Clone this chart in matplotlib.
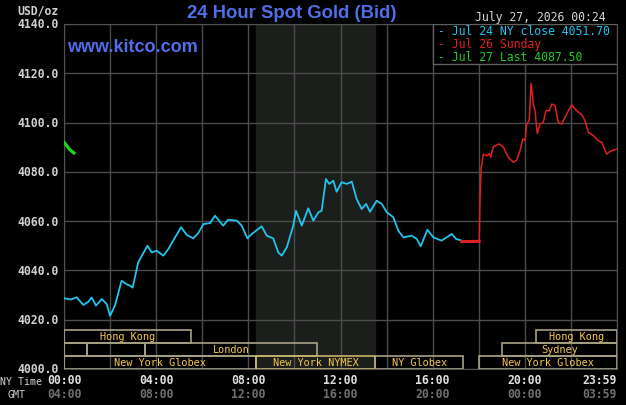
import matplotlib
matplotlib.use('Agg')
import matplotlib.pyplot as plt
from matplotlib.patches import Rectangle

# NY close day (Jul 24), hours NY time
blue_h = [0.0, 0.30, 0.55, 0.84, 1.05, 1.20, 1.39, 1.64, 1.85, 2.00, 2.21, 2.50, 2.70, 2.86, 2.98,
          3.22, 3.62, 3.81, 4.02, 4.31, 4.53, 4.82, 5.08, 5.33, 5.61, 5.83, 6.05, 6.34, 6.55,
          6.91, 7.13, 7.50, 7.71, 7.96, 8.15, 8.58, 8.80, 9.08, 9.30, 9.45, 9.67, 9.95, 10.07,
          10.32, 10.60, 10.82, 11.04, 11.18, 11.37, 11.51, 11.69, 11.83, 12.05, 12.27, 12.49,
          12.70, 12.92, 13.11, 13.28, 13.57, 13.79, 14.01, 14.29, 14.51, 14.73, 15.09, 15.31,
          15.48, 15.77, 16.03, 16.39, 16.83, 17.01, 17.26]
blue_v = [4028.7, 4028.2, 4029.1, 4026.0, 4027.2, 4029.0, 4025.7, 4028.4, 4026.4, 4021.6, 4025.7,
          4035.8, 4034.5, 4033.8, 4033.0, 4043.3, 4050.0, 4047.3, 4048.0, 4046.0, 4048.7, 4053.4,
          4057.5, 4054.4, 4053.0, 4055.2, 4058.8, 4059.2, 4062.2, 4058.2, 4060.6, 4060.2, 4058.2,
          4053.0, 4054.8, 4057.9, 4054.1, 4053.0, 4047.3, 4046.0, 4049.4, 4058.2, 4064.2, 4058.2,
          4065.2, 4060.2, 4063.6, 4064.2, 4077.1, 4075.1, 4076.4, 4071.9, 4075.8, 4075.1, 4076.0,
          4069.0, 4064.9, 4067.0, 4063.8, 4068.3, 4067.0, 4063.6, 4061.6, 4056.1, 4053.4, 4054.1,
          4052.8, 4049.8, 4056.5, 4053.4, 4052.1, 4054.8, 4052.8, 4052.1]

# Sunday (Jul 26)
red_h = [17.26, 18.02, 18.05, 18.10, 18.20, 18.35, 18.46, 18.52, 18.63, 18.89, 19.07, 19.28, 19.50,
         19.65, 19.79, 19.91, 20.01, 20.08, 20.19, 20.27, 20.37, 20.44, 20.54, 20.66, 20.80,
         20.92, 21.06, 21.17, 21.31, 21.45, 21.60, 21.82, 22.03, 22.25, 22.47, 22.61, 22.76,
         22.97, 23.19, 23.34, 23.55, 23.70, 23.99]
red_v = [4051.7, 4051.8, 4067.0, 4081.2, 4087.2, 4086.5, 4087.4, 4085.9, 4090.2, 4091.3, 4090.0,
         4085.9, 4083.9, 4084.8, 4088.6, 4093.3, 4092.9, 4099.4, 4100.8, 4115.9, 4107.5, 4104.8,
         4095.6, 4099.4, 4100.1, 4104.8, 4104.8, 4107.5, 4106.9, 4100.1, 4099.4, 4103.5, 4107.2,
         4104.8, 4103.2, 4100.8, 4096.0, 4094.7, 4092.6, 4092.0, 4087.2, 4088.3, 4089.3]

# today (Jul 27)
green_h = [0.0, 0.12, 0.25, 0.43]
green_v = [4092.0, 4090.6, 4089.0, 4087.7]

y_ticks = [4000, 4020, 4040, 4060, 4080, 4100, 4120, 4140]
ny_labels = ['00:00', '04:00', '08:00', '12:00', '16:00', '20:00', '23:59']
gmt_labels = ['04:00', '08:00', '12:00', '16:00', '20:00', '00:00', '03:59']
label_hours = [0, 4, 8, 12, 16, 20, 24]

# (start hour, end hour, row, label)
sessions = [(0, 5.5, 2, 'Hong Kong'), (20.5, 24, 2, 'Hong Kong'),
            (0, 1, 1, ''), (1, 3.5, 1, ''), (3.5, 11, 1, 'London'), (19, 24, 1, 'Sydney'),
            (0, 8.33, 0, 'New York Globex'), (8.33, 13.5, 0, 'New York NYMEX'),
            (13.5, 17.33, 0, 'NY Globex'), (18, 24, 0, 'New York Globex')]
legend_lines = [('- Jul 24 NY close 4051.70', '#22c4ee'),
                ('- Jul 26 Sunday', '#e02020'),
                ('- Jul 27 Last 4087.50', '#22cc22')]

mono = 'DejaVu Sans Mono'
fig = plt.figure(figsize=(6.26, 4.06), dpi=100, facecolor='black')
ax = fig.add_axes([64 / 626, 36 / 406, 553 / 626, 345 / 406], facecolor='black')
ax.set_xlim(0, 24)
ax.set_ylim(4000, 4140)

ax.axvspan(8.33, 13.5, color='#1c1e1c', zorder=0)
for h in range(0, 25, 2):
    ax.axvline(h, color='#4c4c4c', lw=1, zorder=1)
for v in y_ticks:
    ax.axhline(v, color='#4c4c4c', lw=1, zorder=1)
for s in ax.spines.values():
    s.set_color('#505050')

ax.plot(blue_h, blue_v, color='#22c4ee', lw=1.3, zorder=4)
ax.plot(red_h[:2], red_v[:2], color='#e02020', lw=2.2, zorder=5)
ax.plot(red_h[1:], red_v[1:], color='#e02020', lw=1.1, zorder=5)
ax.plot(green_h, green_v, color='#22cc22', lw=2.4, zorder=5)

row_h = 5.3
for h0, h1, row, lab in sessions:
    y0 = 4000 + row * row_h
    ec = '#c8b468' if 'NYMEX' in lab else '#a8a284'
    ax.add_patch(Rectangle((h0, y0), h1 - h0, row_h, fill=False, ec=ec, lw=1.2, zorder=3))
    if lab:
        ax.text((h0 + h1) / 2, y0 + row_h / 2, lab, color='#f4c850', fontsize=7.4,
                family=mono, ha='center', va='center', zorder=6)

# legend box
ax.add_patch(Rectangle((16, 4123.8), 8, 16.2, fc='black', ec='#606060', lw=1, zorder=3))
for i, (txt, c) in enumerate(legend_lines):
    ax.text(16.25, 4137.2 - i * 5.1, txt, color=c, fontsize=8.3, family=mono,
            ha='left', va='center', zorder=6)

ax.set_xticks([])
ax.set_yticks([])
for v in y_ticks:
    fig.text(59 / 626, ax.transData.transform((0, v))[1] / 406, '%.1f' % v, color='#d0d0d0',
             fontsize=8.3, family=mono, weight='bold', ha='right', va='center')
fig.text(59 / 626, 1 - 11 / 406, 'USD/oz', color='#d0d0d0', fontsize=8.3, family=mono,
         weight='bold', ha='right', va='center')

for h, a, b in zip(label_hours, ny_labels, gmt_labels):
    x = ax.transData.transform((h, 4000))[0] / 626
    ha = 'right' if h == 24 else 'center'
    fig.text(x, 1 - 381 / 406, a, color='#e0e0e0', fontsize=8.3, family=mono,
             weight='bold', ha=ha, va='center')
    fig.text(x, 1 - 395 / 406, b, color='#707070', fontsize=8.3, family=mono,
             weight='bold', ha=ha, va='center')
fig.text(0, 1 - 382 / 406, 'NY Time', color='#d0d0d0', fontsize=7.2, family=mono,
         ha='left', va='center')
fig.text(8 / 626, 1 - 395 / 406, 'GMT', color='#d0d0d0', fontsize=7.2, family=mono,
         ha='left', va='center')

fig.text(292 / 626, 1 - 13.5 / 406, '24 Hour Spot Gold (Bid)', color='#4f6ee8', fontsize=13.3,
         family='Liberation Sans', weight='bold', ha='center', va='center')
fig.text(67 / 626, 1 - 47 / 406, 'www.kitco.com', color='#4f6ee8', fontsize=13,
         family='Liberation Sans', weight='bold', ha='left', va='center')
fig.text(606 / 626, 1 - 17 / 406, 'July 27, 2026 00:24', color='#d8d8d8', fontsize=8.3,
         family=mono, ha='right', va='center')

fig.savefig('out.png', dpi=100, facecolor='black')
